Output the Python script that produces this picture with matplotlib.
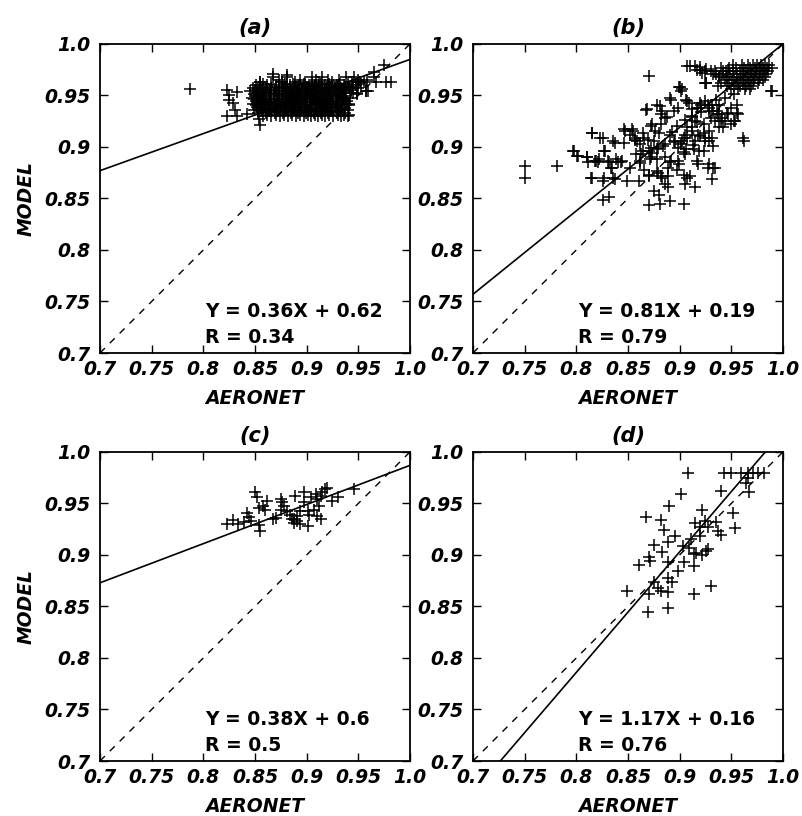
import matplotlib
matplotlib.use("Agg")
import matplotlib.pyplot as plt
import numpy as np

# tick values and labels shared by all panels
ticks = [0.7, 0.75, 0.8, 0.85, 0.9, 0.95, 1.0]
tick_labels = ["0.7", "0.75", "0.8", "0.85", "0.9", "0.95", "1.0"]

panel_titles = ["(a)", "(b)", "(c)", "(d)"]
fit_texts = ["Y = 0.36X + 0.62", "Y = 0.81X + 0.19", "Y = 0.38X + 0.6", "Y = 1.17X + 0.16"]
r_texts = ["R = 0.34", "R = 0.79", "R = 0.5", "R = 0.76"]
# slope / intercept of the drawn regression lines
fit_slope = [0.36, 0.81, 0.38, 1.17]
fit_icept = [0.625, 0.19, 0.607, -0.15]

# ---- panel (a) ----
a_rows = {
    0.968: [0.867, 0.881, 0.905, 0.915, 0.938, 0.946, 0.965],
    0.9655: [0.873, 0.894, 0.909, 0.921, 0.931, 0.950, 0.958],
    0.963: [0.855, 0.876, 0.889, 0.898, 0.912, 0.925, 0.944, 0.952, 0.956, 0.967, 0.977, 0.982],
    0.9615: [0.858, 0.866, 0.879, 0.887, 0.897, 0.905, 0.914, 0.922, 0.932, 0.940, 0.953],
    0.960: [0.851, 0.862, 0.870, 0.884, 0.893, 0.902, 0.908, 0.918, 0.929, 0.936, 0.948],
    0.9585: [0.855, 0.862, 0.870, 0.877, 0.884, 0.891, 0.900, 0.907, 0.915, 0.923, 0.930, 0.937, 0.945],
    0.957: [0.848, 0.858, 0.866, 0.873, 0.880, 0.888, 0.896, 0.904, 0.911, 0.920, 0.927, 0.933, 0.941, 0.950],
    0.9555: [0.850, 0.857, 0.865, 0.873, 0.881, 0.889, 0.896, 0.903, 0.910, 0.918, 0.926, 0.934, 0.943],
    0.954: [0.845, 0.853, 0.861, 0.869, 0.877, 0.885, 0.892, 0.899, 0.906, 0.914, 0.922, 0.930, 0.938, 0.957, 0.959],
    0.9525: [0.852, 0.860, 0.868, 0.876, 0.883, 0.891, 0.898, 0.905, 0.913, 0.921, 0.928, 0.936, 0.945],
    0.951: [0.849, 0.856, 0.864, 0.872, 0.880, 0.887, 0.894, 0.901, 0.909, 0.917, 0.925, 0.932, 0.949],
    0.9495: [0.851, 0.858, 0.866, 0.873, 0.879, 0.886, 0.893, 0.900, 0.908, 0.916, 0.923, 0.931, 0.938],
    0.948: [0.847, 0.854, 0.860, 0.868, 0.876, 0.883, 0.890, 0.897, 0.905, 0.912, 0.920, 0.928, 0.935, 0.942],
    0.9465: [0.849, 0.856, 0.864, 0.871, 0.879, 0.886, 0.892, 0.899, 0.907, 0.914, 0.921, 0.929, 0.936],
    0.945: [0.851, 0.858, 0.865, 0.873, 0.881, 0.888, 0.895, 0.903, 0.910, 0.917, 0.924, 0.931, 0.939],
    0.9435: [0.853, 0.861, 0.868, 0.876, 0.884, 0.891, 0.897, 0.905, 0.912, 0.919, 0.926, 0.934],
    0.942: [0.848, 0.856, 0.863, 0.870, 0.878, 0.886, 0.893, 0.900, 0.908, 0.915, 0.922, 0.929, 0.941],
    0.9405: [0.851, 0.859, 0.866, 0.874, 0.881, 0.889, 0.896, 0.903, 0.911, 0.918, 0.925, 0.932, 0.938],
    0.939: [0.852, 0.860, 0.867, 0.875, 0.883, 0.890, 0.898, 0.905, 0.913, 0.920, 0.927, 0.934],
    0.9375: [0.855, 0.863, 0.870, 0.878, 0.885, 0.893, 0.900, 0.908, 0.916, 0.923, 0.930, 0.937],
    0.936: [0.849, 0.857, 0.864, 0.872, 0.880, 0.888, 0.895, 0.902, 0.910, 0.918, 0.925, 0.932, 0.940],
    0.9345: [0.856, 0.864, 0.871, 0.879, 0.887, 0.894, 0.901, 0.909, 0.916, 0.924, 0.931],
    0.933: [0.853, 0.861, 0.869, 0.877, 0.885, 0.892, 0.899, 0.907, 0.914, 0.921, 0.929, 0.937],
    0.9315: [0.862, 0.870, 0.878, 0.886, 0.894, 0.901, 0.908, 0.915, 0.922, 0.930, 0.936],
    0.930: [0.858, 0.866, 0.874, 0.882, 0.890, 0.897, 0.904, 0.911, 0.918, 0.926, 0.933, 0.940],
}
a_extra_x = [0.787, 0.823, 0.825, 0.833, 0.825, 0.829, 0.823, 0.833, 0.842, 0.831, 0.854, 0.855,
             0.867, 0.855, 0.881, 0.876, 0.975, 0.965, 0.941, 0.941, 0.949, 0.957]
a_extra_y = [0.956, 0.955, 0.950, 0.953, 0.946, 0.943, 0.930, 0.930, 0.932, 0.936, 0.927, 0.921,
             0.971, 0.963, 0.970, 0.963, 0.980, 0.973, 0.931, 0.941, 0.952, 0.954]

# ---- panel (b) ----
b_rows = {
    0.980: [0.952, 0.960, 0.966, 0.971, 0.975, 0.979, 0.983, 0.987],
    0.977: [0.940, 0.948, 0.955, 0.962, 0.968, 0.973, 0.977, 0.981, 0.985, 0.989],
    0.974: [0.930, 0.945, 0.952, 0.958, 0.964, 0.969, 0.974, 0.978, 0.982, 0.986],
    0.971: [0.935, 0.942, 0.949, 0.956, 0.961, 0.966, 0.971, 0.975, 0.980, 0.984],
    0.968: [0.938, 0.946, 0.953, 0.959, 0.964, 0.969, 0.973, 0.978, 0.983],
    0.965: [0.944, 0.951, 0.957, 0.962, 0.967, 0.972, 0.977, 0.981],
    0.962: [0.940, 0.948, 0.955, 0.961, 0.966, 0.971, 0.976],
    0.959: [0.946, 0.953, 0.958, 0.964, 0.969],
    0.956: [0.950, 0.957, 0.963, 0.968],
}
b_extra_x = [0.989, 0.920, 0.915, 0.926, 0.926, 0.750, 0.750, 0.781,
             0.798, 0.802, 0.810, 0.811, 0.819, 0.821, 0.828, 0.832, 0.834, 0.837, 0.840, 0.844,
             0.847, 0.815, 0.826, 0.837, 0.849, 0.826, 0.832, 0.815, 0.826, 0.855, 0.857, 0.858, 0.861,
             0.870, 0.868, 0.881, 0.883, 0.892, 0.902, 0.900, 0.907, 0.886, 0.873, 0.876, 0.866,
             0.870, 0.873, 0.879, 0.886, 0.863, 0.870, 0.879, 0.883, 0.886, 0.889, 0.870, 0.881,
             0.891, 0.904, 0.905, 0.910, 0.915, 0.918, 0.928, 0.934, 0.931, 0.892, 0.899, 0.905,
             0.889, 0.912, 0.915, 0.918, 0.921, 0.925, 0.928, 0.931, 0.938, 0.941, 0.944, 0.934,
             0.938, 0.942, 0.918, 0.925, 0.905, 0.907, 0.902, 0.915, 0.925, 0.928, 0.931, 0.938,
             0.947, 0.954, 0.957, 0.962, 0.950, 0.910, 0.920, 0.925, 0.926, 0.934, 0.938, 0.942,
             0.947, 0.893, 0.897, 0.905, 0.912, 0.921, 0.928, 0.935, 0.896, 0.884, 0.878, 0.871,
             0.866, 0.862, 0.875, 0.880, 0.889, 0.897, 0.906, 0.913, 0.919, 0.930, 0.936, 0.944]
b_extra_y = [0.954, 0.978, 0.979, 0.976, 0.962, 0.882, 0.870, 0.882,
             0.896, 0.891, 0.890, 0.885, 0.886, 0.885, 0.896, 0.885, 0.880, 0.904, 0.885, 0.886,
             0.916, 0.870, 0.867, 0.869, 0.867, 0.849, 0.851, 0.914, 0.909, 0.916, 0.907, 0.893, 0.867,
             0.969, 0.937, 0.940, 0.935, 0.946, 0.956, 0.958, 0.945, 0.928, 0.922, 0.916, 0.909,
             0.896, 0.894, 0.899, 0.903, 0.893, 0.873, 0.875, 0.870, 0.864, 0.861, 0.844, 0.845,
             0.848, 0.845, 0.864, 0.872, 0.861, 0.883, 0.883, 0.880, 0.869, 0.886, 0.883, 0.893,
             0.880, 0.919, 0.925, 0.938, 0.941, 0.945, 0.935, 0.941, 0.932, 0.928, 0.925, 0.925,
             0.919, 0.919, 0.912, 0.909, 0.912, 0.909, 0.906, 0.906, 0.906, 0.916, 0.909, 0.941,
             0.932, 0.925, 0.932, 0.906, 0.938, 0.979, 0.975, 0.974, 0.962, 0.974, 0.969, 0.974,
             0.974, 0.915, 0.920, 0.926, 0.930, 0.934, 0.938, 0.946, 0.905, 0.901, 0.898, 0.888,
             0.878, 0.884, 0.857, 0.853, 0.872, 0.878, 0.898, 0.902, 0.896, 0.928, 0.935, 0.948]
# denser diagonal band of panel (b)
b_band_x = [0.907, 0.917, 0.922, 0.925, 0.937, 0.932, 0.899, 0.901, 0.891, 0.906, 0.909,
            0.878, 0.867, 0.882, 0.888, 0.895, 0.898,
            0.912, 0.917, 0.920, 0.927, 0.932, 0.937, 0.940, 0.946, 0.950, 0.956, 0.953,
            0.912, 0.917, 0.924, 0.907, 0.912, 0.920, 0.924, 0.928, 0.932, 0.904, 0.901, 0.898,
            0.895, 0.891, 0.872, 0.865, 0.869, 0.862, 0.865, 0.872, 0.875, 0.880, 0.882, 0.854,
            0.846, 0.857, 0.859, 0.852, 0.961, 0.988, 0.953, 0.956,
            0.815, 0.823, 0.836, 0.846, 0.827, 0.797, 0.801, 0.810, 0.818, 0.822, 0.831, 0.838,
            0.843, 0.835, 0.852, 0.862, 0.872, 0.878, 0.886, 0.891, 0.898, 0.904, 0.914, 0.924,
            0.917, 0.927, 0.932, 0.904, 0.907, 0.878, 0.882, 0.870, 0.814, 0.827, 0.836]
b_band_y = [0.979, 0.975, 0.972, 0.962, 0.959, 0.971, 0.958, 0.954, 0.948, 0.946, 0.943,
            0.941, 0.936, 0.932, 0.929, 0.935, 0.938,
            0.937, 0.938, 0.943, 0.941, 0.935, 0.932, 0.925, 0.933, 0.922, 0.933, 0.925,
            0.929, 0.924, 0.922, 0.919, 0.916, 0.911, 0.914, 0.906, 0.901, 0.909, 0.903, 0.899,
            0.906, 0.912, 0.920, 0.914, 0.907, 0.903, 0.896, 0.899, 0.906, 0.914, 0.922, 0.917,
            0.917, 0.909, 0.906, 0.912, 0.909, 0.954, 0.951, 0.941,
            0.914, 0.909, 0.906, 0.904, 0.896, 0.896, 0.891, 0.890, 0.886, 0.888, 0.886, 0.888,
            0.885, 0.880, 0.880, 0.886, 0.890, 0.888, 0.890, 0.885, 0.886, 0.895, 0.898, 0.896,
            0.886, 0.880, 0.880, 0.873, 0.870, 0.877, 0.872, 0.872, 0.870, 0.870, 0.870]

# ---- panel (c) ----
c_x = [0.823, 0.829, 0.834, 0.839, 0.844, 0.846, 0.842, 0.854, 0.855, 0.867, 0.870,
       0.850, 0.852, 0.854, 0.860, 0.862, 0.858,
       0.875, 0.876, 0.878, 0.875, 0.881, 0.884, 0.886, 0.891, 0.888, 0.891, 0.894, 0.889,
       0.897, 0.897, 0.901, 0.902, 0.904, 0.909, 0.910, 0.914, 0.915, 0.918, 0.920, 0.912,
       0.907, 0.910, 0.914, 0.901, 0.894, 0.888, 0.925, 0.930, 0.946]
c_y = [0.930, 0.934, 0.930, 0.932, 0.937, 0.933, 0.941, 0.929, 0.923, 0.935, 0.936,
       0.961, 0.956, 0.946, 0.944, 0.952, 0.948,
       0.954, 0.951, 0.948, 0.944, 0.943, 0.939, 0.935, 0.938, 0.931, 0.933, 0.943, 0.957,
       0.961, 0.951, 0.943, 0.939, 0.956, 0.959, 0.954, 0.957, 0.961, 0.964, 0.965, 0.948,
       0.944, 0.938, 0.935, 0.928, 0.930, 0.935, 0.952, 0.956, 0.964]

# ---- panel (d) ----
d_x = [0.908, 0.943, 0.950, 0.959, 0.966, 0.971, 0.976, 0.982, 0.966, 0.964, 0.967,
       0.940, 0.901, 0.890, 0.922, 0.952, 0.867, 0.882, 0.915, 0.925, 0.935, 0.920, 0.927,
       0.885, 0.937, 0.940, 0.954, 0.896, 0.911, 0.920, 0.875, 0.889, 0.903, 0.909,
       0.883, 0.927, 0.916, 0.922, 0.870, 0.914, 0.926, 0.861, 0.871, 0.889, 0.904, 0.914,
       0.898, 0.889, 0.893, 0.875, 0.930, 0.849, 0.870, 0.879, 0.882, 0.889, 0.914, 0.869, 0.889]
d_y = [0.980, 0.980, 0.980, 0.980, 0.980, 0.980, 0.980, 0.980, 0.975, 0.970, 0.961,
       0.962, 0.959, 0.948, 0.944, 0.941, 0.937, 0.934, 0.931, 0.933, 0.932, 0.927, 0.927,
       0.924, 0.923, 0.919, 0.926, 0.918, 0.916, 0.918, 0.910, 0.913, 0.909, 0.907,
       0.903, 0.906, 0.902, 0.900, 0.898, 0.901, 0.904, 0.890, 0.894, 0.893, 0.893, 0.889,
       0.884, 0.878, 0.874, 0.874, 0.870, 0.865, 0.862, 0.868, 0.865, 0.864, 0.862, 0.845, 0.849]


def rows_to_xy(rows, ex, ey):
    xs, ys = list(ex), list(ey)
    for yv, xl in rows.items():
        xs += xl
        ys += [yv] * len(xl)
    return xs, ys


a_x, a_y = rows_to_xy(a_rows, a_extra_x, a_extra_y)
b_x, b_y = rows_to_xy(b_rows, b_extra_x + b_band_x, b_extra_y + b_band_y)
xs_all = [a_x, b_x, c_x, d_x]
ys_all = [a_y, b_y, c_y, d_y]

fig = plt.figure(figsize=(8.03, 8.16), dpi=100)
lefts = [0.1245, 0.589, 0.1245, 0.589]
bottoms = [0.5674, 0.5674, 0.0674, 0.0674]
fs = 13.5
tick_font = dict(fontsize=fs, fontweight="bold", fontstyle="italic")

for i in range(4):
    ax = fig.add_axes([lefts[i], bottoms[i], 0.386, 0.3787])
    ax.plot(xs_all[i], ys_all[i], "+", color="black", markersize=8, markeredgewidth=1.1)
    line_x = np.array([0.7, 1.0])
    ax.plot(line_x, fit_slope[i] * line_x + fit_icept[i], "-", color="black", lw=1.2)
    ax.plot(line_x, line_x, "--", color="black", lw=1.0, dashes=(5, 5))
    ax.set_xlim(0.7, 1.0)
    ax.set_ylim(0.7, 1.0)
    ax.set_xticks(ticks)
    ax.set_yticks(ticks)
    ax.set_xticklabels(tick_labels, **tick_font)
    ax.set_yticklabels(tick_labels, **tick_font)
    ax.tick_params(direction="in", top=True, right=True, length=6, width=1)
    ax.tick_params(axis="x", pad=5)
    ax.tick_params(axis="y", pad=7)
    for sp in ax.spines.values():
        sp.set_linewidth(1.3)
    ax.set_title(panel_titles[i], fontsize=fs + 1.5, fontweight="bold", fontstyle="italic", pad=7)
    ax.set_xlabel("AERONET", fontsize=fs, fontweight="bold", fontstyle="italic", labelpad=7)
    if i % 2 == 0:
        ax.set_ylabel("MODEL", fontsize=fs, fontweight="bold", fontstyle="italic", labelpad=6)
    ax.text(0.802, 0.735, fit_texts[i], fontsize=fs, fontweight="bold", va="baseline")
    ax.text(0.802, 0.710, r_texts[i], fontsize=fs, fontweight="bold", va="baseline")

fig.savefig("out.png", dpi=100)
